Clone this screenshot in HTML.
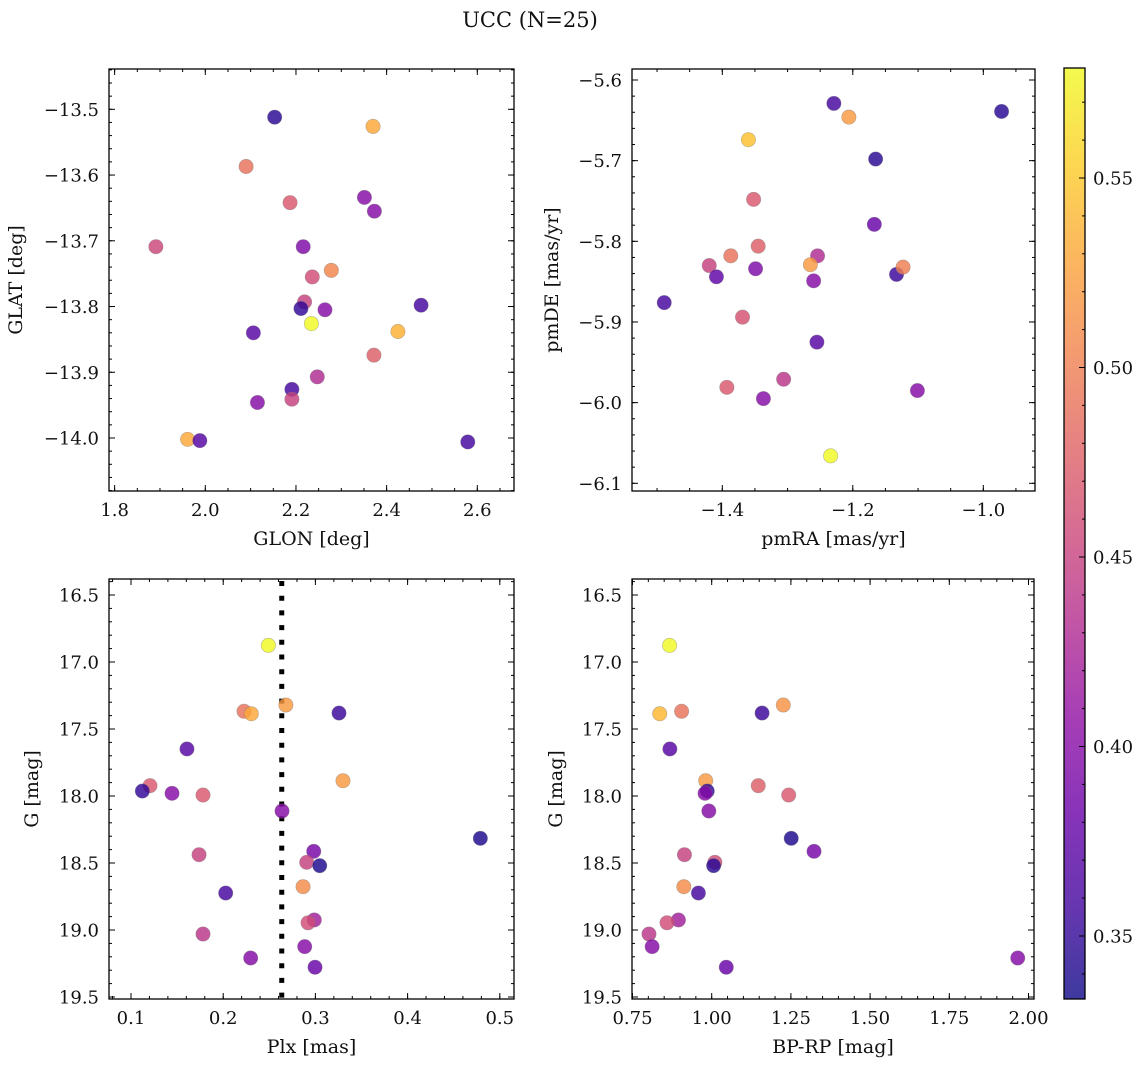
<!DOCTYPE html>
<html><head><meta charset="utf-8"><style>
html,body{margin:0;padding:0;background:#fff;}
svg text{font-family:"DejaVu Serif","Liberation Serif",serif;fill:#111;}
</style></head><body>
<svg id="fig" width="1148" height="1068" viewBox="0 0 1148 1068" xmlns="http://www.w3.org/2000/svg">
<text x="530" y="27" font-size="21" text-anchor="middle">UCC (N=25)</text>
</svg>
<script>
// Panel 1: GLON vs GLAT
const glonP1 = [2.153,2.370,2.090,2.187,2.351,2.373,1.891,2.216,2.278,2.236,2.219,2.211,2.264,2.476,2.234,2.106,2.425,2.372,2.247,2.191,2.191,2.115,1.961,1.988,2.579];
const glatP1 = [-13.512,-13.526,-13.587,-13.642,-13.634,-13.655,-13.709,-13.709,-13.745,-13.755,-13.793,-13.803,-13.805,-13.798,-13.826,-13.840,-13.838,-13.874,-13.907,-13.926,-13.941,-13.946,-14.002,-14.004,-14.006];
const colP1 = [0.345,0.53,0.49,0.47,0.40,0.40,0.455,0.395,0.505,0.46,0.45,0.35,0.40,0.36,0.58,0.37,0.535,0.475,0.43,0.36,0.45,0.40,0.53,0.37,0.36];
// Panel 2: pmRA vs pmDE
const pmraP2 = [-1.229,-0.972,-1.206,-1.360,-1.165,-1.352,-1.167,-1.345,-1.387,-1.420,-1.409,-1.349,-1.254,-1.265,-1.260,-1.133,-1.123,-1.489,-1.369,-1.255,-1.393,-1.306,-1.337,-1.101,-1.234];
const pmdeP2 = [-5.629,-5.639,-5.646,-5.674,-5.698,-5.748,-5.779,-5.806,-5.818,-5.830,-5.844,-5.834,-5.818,-5.829,-5.849,-5.841,-5.832,-5.876,-5.894,-5.925,-5.981,-5.971,-5.995,-5.985,-6.066];
const colP2 = [0.36,0.345,0.52,0.545,0.345,0.47,0.38,0.475,0.49,0.45,0.375,0.395,0.43,0.52,0.40,0.355,0.50,0.36,0.465,0.37,0.47,0.44,0.40,0.40,0.58];
// Panel 3: Plx vs G
const plxP3 = [0.249,0.2226,0.2305,0.268,0.3256,0.1607,0.1206,0.1123,0.1445,0.1781,0.3299,0.2638,0.4789,0.1738,0.2982,0.2906,0.3047,0.2866,0.2027,0.2988,0.292,0.1781,0.2884,0.2298,0.2996];
const gP3 = [16.876,17.368,17.386,17.321,17.381,17.649,17.923,17.963,17.980,17.993,17.886,18.112,18.316,18.438,18.413,18.495,18.520,18.677,18.724,18.925,18.946,19.030,19.124,19.209,19.278];
const colP3 = [0.58,0.49,0.53,0.52,0.355,0.37,0.47,0.35,0.40,0.47,0.52,0.40,0.34,0.45,0.39,0.45,0.34,0.51,0.36,0.42,0.46,0.44,0.40,0.40,0.38];
const plxLine = [0.2635];
// Panel 4: BP-RP vs G
const bprpP4 = [0.867,0.836,0.905,1.159,1.226,0.868,0.981,0.986,0.979,1.147,1.243,0.991,1.251,1.323,0.914,1.010,1.006,0.912,0.958,0.895,0.859,0.802,0.812,1.966,1.046];
const gP4 = [16.876,17.386,17.368,17.381,17.321,17.649,17.886,17.963,17.980,17.923,17.993,18.112,18.316,18.413,18.438,18.495,18.520,18.677,18.724,18.925,18.946,19.030,19.124,19.209,19.278];
const colP4 = [0.58,0.54,0.49,0.355,0.515,0.37,0.52,0.35,0.40,0.475,0.47,0.40,0.34,0.39,0.45,0.46,0.345,0.51,0.36,0.42,0.46,0.44,0.40,0.40,0.38];
// Tick labels
const ticksP1x = [1.8,2.0,2.2,2.4,2.6];
const ticksP1y = [-13.5,-13.6,-13.7,-13.8,-13.9,-14.0];
const ticksP2x = [-1.4,-1.2,-1.0];
const ticksP2y = [-5.6,-5.7,-5.8,-5.9,-6.0,-6.1];
const ticksP3x = [0.1,0.2,0.3,0.4,0.5];
const ticksG = [16.5,17.0,17.5,18.0,18.5,19.0,19.5];
const ticksP4x = [0.75,1.00,1.25,1.50,1.75,2.00];
const ticksCbar = [0.35,0.40,0.45,0.50,0.55];
const cbarMin = 0.3334, cbarMax = 0.579;

const NS = "http://www.w3.org/2000/svg";
const svg = document.getElementById('fig');
function mk(tag, attrs, parent){ const e=document.createElementNS(NS,tag); for(const k in attrs) e.setAttribute(k,attrs[k]); (parent||svg).appendChild(e); return e; }
function lin(p0,v0,p1,v1){ const k=(p1-p0)/(v1-v0); const f=v=>p0+(v-v0)*k; f.inv=p=>v0+(p-p0)/k; return f; }

const plasma=[[13,8,135],[65,4,157],[106,0,168],[143,13,164],[177,42,144],[204,71,120],[225,100,98],[242,132,75],[252,166,54],[252,206,37],[240,249,33]];
function cmap(v){ let t=(v-cbarMin)/(cbarMax-cbarMin); t=Math.max(0,Math.min(1,t)); const s=t*10; const i=Math.min(9,Math.floor(s)); const f=s-i; const a=plasma[i], b=plasma[i+1]; return `rgb(${Math.round(a[0]+(b[0]-a[0])*f)},${Math.round(a[1]+(b[1]-a[1])*f)},${Math.round(a[2]+(b[2]-a[2])*f)})`; }
function fmt(v,d){ const s=v.toFixed(d); return s.replace('-','\u2212'); }
const TFS = 18, LFS = 19;

function panel(cfg){
  const g = mk('g',{});
  
  
  const {L,R,T,B,sx,sy} = cfg;
  const vx0=sx.inv(L), vx1=sx.inv(R), vy0=sy.inv(B), vy1=sy.inv(T);
  function ticksAlong(step, lo, hi){ const out=[]; const a=Math.min(lo,hi), b=Math.max(lo,hi); for(let v=Math.ceil(a/step-1e-6)*step; v<=b+1e-9; v+=step) out.push(+v.toFixed(6)); return out; }
  const tk = mk('g',{stroke:'#000','stroke-width':1},g);
  
  
  ticksAlong(cfg.minx, vx0, vx1).forEach(v=>{ const x=sx(v); mk('line',{x1:x,x2:x,y1:B,y2:B-3},tk); mk('line',{x1:x,x2:x,y1:T,y2:T+3},tk); });
  ticksAlong(cfg.miny, vy0, vy1).forEach(v=>{ const y=sy(v); mk('line',{x1:L,x2:L+3,y1:y,y2:y},tk); mk('line',{x1:R,x2:R-3,y1:y,y2:y},tk); });
  cfg.tx.forEach(v=>{ const x=sx(v); mk('line',{x1:x,x2:x,y1:B,y2:B-6},tk); mk('line',{x1:x,x2:x,y1:T,y2:T+6},tk);
    const t=mk('text',{x:x,y:B+25,'font-size':TFS,'text-anchor':'middle'},g); t.textContent=fmt(v,cfg.dx);
      });
  cfg.ty.forEach(v=>{ const y=sy(v); mk('line',{x1:L,x2:L+6,y1:y,y2:y},tk); mk('line',{x1:R,x2:R-6,y1:y,y2:y},tk);
    const t=mk('text',{x:L-10,y:y+6.5,'font-size':TFS,'text-anchor':'end'},g); t.textContent=fmt(v,cfg.dy);
      });
  if(cfg.vline){ cfg.vline.forEach(v=>{ const x=sx(v); const ln=mk('line',{x1:x,x2:x,y1:T+2,y2:B,stroke:'#000','stroke-width':5,'stroke-dasharray':'5 9.7'},g);
      }); }
  const pts = mk('g',{},g);
  
  
  cfg.xs.forEach((v,i)=>{ const c=mk('circle',{cx:sx(v),cy:sy(cfg.ys[i]),r:7.2,fill:cmap(cfg.cs[i]),'fill-opacity':0.82,stroke:'#777','stroke-opacity':0.5,'stroke-width':0.6},pts);
      });
  const fr=mk('rect',{x:L,y:T,width:R-L,height:B-T,fill:'none',stroke:'#000','stroke-width':1.3},g);
   
  const xl=mk('text',{x:(L+R)/2,y:B+54,'font-size':LFS,'text-anchor':'middle'},g); xl.textContent=cfg.xlab;
   
  const yx=cfg.ylx, yc=(T+B)/2;
  const yl=mk('text',{x:yx,y:yc,'font-size':LFS,'text-anchor':'middle',transform:`rotate(-90 ${yx} ${yc})`},g); yl.textContent=cfg.ylab;
   
}

const gY3 = lin(595,16.5,997,19.5);
panel({name:'glon-glat-panel',L:109,R:514,T:69,B:491,sx:lin(205.3,2.0,477.3,2.6),sy:lin(109.3,-13.5,438,-14.0),minx:0.05,miny:0.02,tx:ticksP1x,ty:ticksP1y,dx:1,dy:1,xs:glonP1,ys:glatP1,cs:colP1,xlab:'GLON [deg]',ylab:'GLAT [deg]',ylx:22});
panel({name:'pm-panel',L:632,R:1035,T:69,B:491,sx:lin(722.3,-1.4,983.3,-1.0),sy:lin(80,-5.6,483.3,-6.1),minx:0.05,miny:0.02,tx:ticksP2x,ty:ticksP2y,dx:1,dy:1,xs:pmraP2,ys:pmdeP2,cs:colP2,xlab:'pmRA [mas/yr]',ylab:'pmDE [mas/yr]',ylx:558});
panel({name:'plx-g-panel',L:109,R:514,T:579,B:999,sx:lin(131,0.1,499.8,0.5),sy:gY3,minx:0.02,miny:0.1,tx:ticksP3x,ty:ticksG,dx:1,dy:1,xs:plxP3,ys:gP3,cs:colP3,vline:plxLine,xlab:'Plx [mas]',ylab:'G [mag]',ylx:38});
panel({name:'cmd-panel',L:632,R:1034,T:579,B:999,sx:lin(711.7,1.0,1028.5,2.0),sy:gY3,minx:0.05,miny:0.1,tx:ticksP4x,ty:ticksG,dx:2,dy:1,xs:bprpP4,ys:gP4,cs:colP4,xlab:'BP-RP [mag]',ylab:'G [mag]',ylx:562});

// Colorbar
(function(){
  const L=1064,R=1085,T=68,B=999; const sc=lin(178,0.55,936,0.35);
  const cb=mk('g',{});  
  const defs=mk('defs',{},cb); const lg=mk('linearGradient',{id:'cbg',x1:0,y1:1,x2:0,y2:0},defs);
  for(let i=0;i<=20;i++){ const v=cbarMin+(cbarMax-cbarMin)*i/20; mk('stop',{offset:(i/20),'stop-color':cmap(v)},lg); }
  const r=mk('rect',{x:L,y:T,width:R-L,height:B-T,fill:'url(#cbg)','fill-opacity':0.8},cb);
   
  for(let v=0.34; v<=0.575; v+=0.01){ const y=sc(v); mk('line',{x1:R,x2:R-3,y1:y,y2:y,stroke:'#000','stroke-width':1},cb); }
  ticksCbar.forEach(v=>{ const y=sc(v); mk('line',{x1:R,x2:R-6,y1:y,y2:y,stroke:'#000','stroke-width':1},cb);
    const t=mk('text',{x:R+8,y:y+6.5,'font-size':TFS},cb); t.textContent=v.toFixed(2);
      });
  mk('rect',{x:L,y:T,width:R-L,height:B-T,fill:'none',stroke:'#000','stroke-width':1.3},cb);
})();
</script>
</body></html>
